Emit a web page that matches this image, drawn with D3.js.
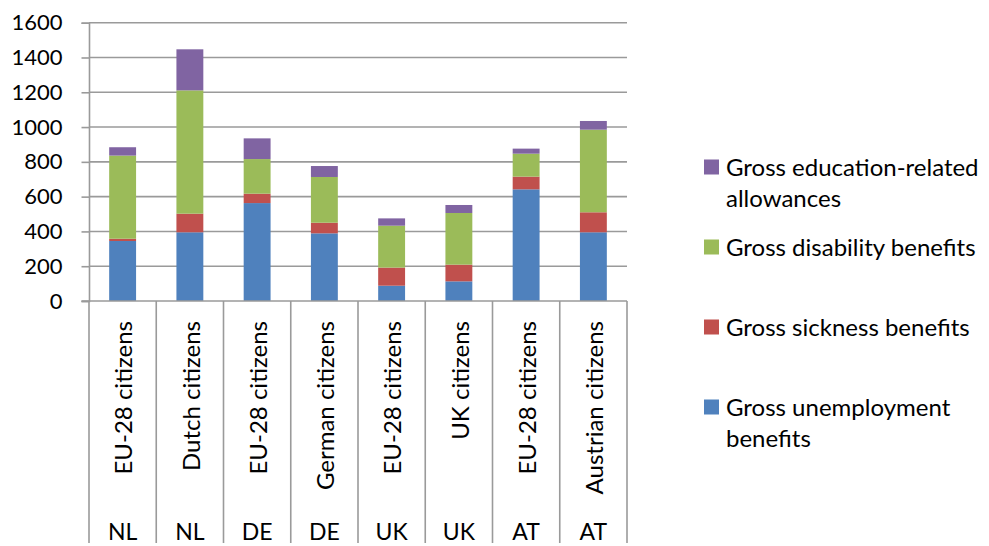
<!DOCTYPE html>
<html>
<head>
<meta charset="utf-8">
<script src="https://cdn.jsdelivr.net/npm/d3@7"></script>
<style>
  html, body { margin: 0; padding: 0; background: #fff; }
  svg { display: block; font-family: Lato, "Open Sans", sans-serif; }
</style>
</head>
<body>
<svg id="chart" width="989" height="546"></svg>
<script>
// ---- data ----
const countries = ["NL", "NL", "DE", "DE", "UK", "UK", "AT", "AT"];
const groups = ["EU-28 citizens", "Dutch citizens", "EU-28 citizens", "German citizens",
                "EU-28 citizens", "UK citizens", "EU-28 citizens", "Austrian citizens"];
const unemployment = [345, 395, 563, 389, 88, 113, 642, 395];
const sickness     = [13, 107, 54, 61, 104, 96, 73, 115];
const disability   = [478, 709, 199, 263, 241, 297, 132, 475];
const education    = [48, 236, 119, 63, 42, 46, 29, 50];
const seriesNames = ["Gross unemployment benefits", "Gross sickness benefits",
                     "Gross disability benefits", "Gross education-related allowances"];
const legendLines = [["Gross unemployment", "benefits"], ["Gross sickness benefits"],
                     ["Gross disability benefits"], ["Gross education-related", "allowances"]];
const yTicks = [0, 200, 400, 600, 800, 1000, 1200, 1400, 1600];
const colors = ["#4F81BD", "#C0504D", "#9BBB59", "#8064A2"];

(function () {
// ---- build table ----
const keys = ["u", "s", "d", "e"];
const table = countries.map((c, i) => ({
  id: i, u: unemployment[i], s: sickness[i], d: disability[i], e: education[i]
}));

const svg = d3.select("#chart");
const pLeft = 89, pRight = 627, pTop = 22.7, pBottom = 301;

const x = d3.scaleBand().domain(table.map(d => d.id)).range([pLeft, pRight])
  .paddingInner(0.6).paddingOuter(0.3);
const xCat = d3.scaleBand().domain(table.map(d => d.id)).range([pLeft, pRight]).padding(0);
const y = d3.scaleLinear().domain([0, 1600]).range([pBottom, pTop]);

const gridColor = "#9a9a9a";

// gridlines
svg.append("g").selectAll("line").data(yTicks.filter(t => t > 0)).join("line")
  .attr("x1", pLeft).attr("x2", pRight)
  .attr("y1", d => y(d)).attr("y2", d => y(d))
  .attr("stroke", gridColor).attr("stroke-width", 1.6);

// y axis
const yAxis = d3.axisLeft(y).tickValues(yTicks).tickSize(7.5).tickPadding(19)
  .tickFormat(d3.format("d"));
const gy = svg.append("g").attr("transform", `translate(${pLeft},0)`).call(yAxis);
gy.select(".domain").attr("stroke", gridColor).attr("stroke-width", 1.6);
gy.selectAll(".tick line").attr("stroke", gridColor).attr("stroke-width", 1.6);
gy.selectAll(".tick text").attr("font-size", 22).attr("fill", "#000")
  .attr("font-family", "Lato, sans-serif");

// stacked bars
const stacked = d3.stack().keys(keys)(table);
svg.append("g").selectAll("g").data(stacked).join("g")
  .attr("fill", (d, i) => colors[i])
  .selectAll("rect").data(d => d).join("rect")
  .attr("x", d => x(d.data.id))
  .attr("width", x.bandwidth())
  .attr("y", d => y(d[1]))
  .attr("height", d => y(d[0]) - y(d[1]));

// x axis line
svg.append("line").attr("x1", pLeft - 7.5).attr("x2", pRight)
  .attr("y1", pBottom).attr("y2", pBottom)
  .attr("stroke", gridColor).attr("stroke-width", 1.6);

// category separators
const seps = d3.range(table.length + 1).map(i => i === table.length ? pRight : xCat(i));
svg.append("g").selectAll("line").data(seps).join("line")
  .attr("x1", d => d).attr("x2", d => d)
  .attr("y1", pBottom).attr("y2", 543)
  .attr("stroke", gridColor).attr("stroke-width", 1.6);

// rotated category labels
svg.append("g").selectAll("text").data(table).join("text")
  .attr("transform", d => `translate(${xCat(d.id) + xCat.bandwidth() / 2 + 1},321) rotate(-90)`)
  .attr("text-anchor", "end").attr("dy", "0.36em")
  .attr("font-size", 24).attr("fill", "#000")
  .text(d => groups[d.id]);

// country labels
svg.append("g").selectAll("text").data(table).join("text")
  .attr("x", d => xCat(d.id) + xCat.bandwidth() / 2)
  .attr("y", 540)
  .attr("text-anchor", "middle")
  .attr("font-size", 23).attr("fill", "#000")
  .text(d => countries[d.id]);

// legend (top to bottom: education, disability, sickness, unemployment)
const legOrder = [3, 2, 1, 0];
const leg = svg.append("g").selectAll("g").data(legOrder).join("g")
  .attr("transform", (d, i) => `translate(704,${167 + 80 * i})`);
leg.append("rect").attr("x", 0).attr("y", -7.5).attr("width", 15).attr("height", 15)
  .attr("fill", d => colors[d]);
leg.append("text").attr("x", 22).attr("y", 8.5)
  .attr("font-size", 24).attr("fill", "#000")
  .selectAll("tspan").data(d => legendLines[d]).join("tspan")
  .attr("x", 22).attr("dy", (t, j) => j === 0 ? 0 : 31.5)
  .text(t => t);
})();
</script>
</body>
</html>
